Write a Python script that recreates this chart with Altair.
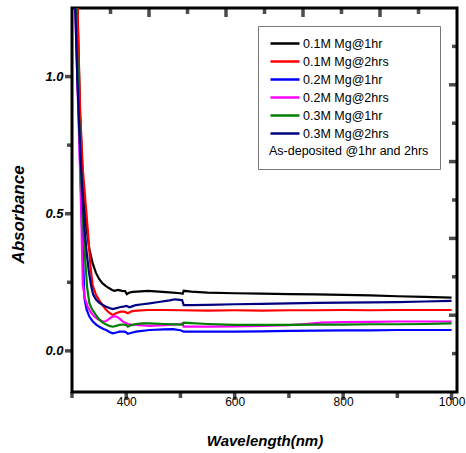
import altair as alt
import pandas as pd

series = ["0.1M Mg@1hr", "0.1M Mg@2hrs", "0.2M Mg@1hr", "0.2M Mg@2hrs", "0.3M Mg@1hr", "0.3M Mg@2hrs"]
colors = ["#000000", "#ff0000", "#0000ff", "#ff00ff", "#008000", "#000080"]
legend_note = "As-deposited @1hr and 2hrs"

wl_01_1h = [300, 305, 310, 315, 320, 326, 332, 338, 344, 350, 356, 362, 368, 374, 378, 385, 392, 398, 401, 405,
            412, 420, 440, 460, 480, 500, 504, 506, 520, 550, 600, 650, 700, 750, 800, 850, 900, 950, 1000]
ab_01_1h = [2.0, 1.6, 1.25, 0.86, 0.62, 0.46, 0.37, 0.32, 0.285, 0.262, 0.247, 0.237, 0.229, 0.222, 0.219, 0.222,
            0.219, 0.218, 0.207, 0.212, 0.215, 0.216, 0.219, 0.216, 0.213, 0.210, 0.208, 0.219, 0.216, 0.212,
            0.210, 0.209, 0.207, 0.206, 0.204, 0.202, 0.199, 0.197, 0.194]

wl_01_2h = [300, 305, 310, 315, 320, 325, 330, 334, 338, 344, 350, 356, 362, 368, 375, 382, 390, 396, 400, 403,
            410, 420, 440, 470, 500, 550, 600, 650, 700, 750, 800, 850, 900, 950, 1000]
ab_01_2h = [2.0, 1.6, 1.27, 0.87, 0.66, 0.54, 0.42, 0.31, 0.24, 0.205, 0.185, 0.168, 0.152, 0.140, 0.131, 0.138,
            0.143, 0.143, 0.140, 0.137, 0.144, 0.147, 0.149, 0.149, 0.148, 0.147, 0.148, 0.147, 0.148, 0.148,
            0.149, 0.148, 0.149, 0.149, 0.149]

wl_02_1h = [300, 304, 308, 312, 316, 320, 323, 327, 332, 338, 345, 352, 358, 363, 369, 375, 382, 388, 397, 400,
            403, 410, 418, 443, 470, 486, 500, 506, 550, 600, 650, 700, 750, 800, 850, 900, 950, 1000]
ab_02_1h = [1.8, 1.45, 1.15, 0.88, 0.62, 0.36, 0.19, 0.15, 0.125, 0.108, 0.095, 0.086, 0.080, 0.076, 0.069, 0.064,
            0.067, 0.070, 0.070, 0.067, 0.062, 0.066, 0.070, 0.076, 0.078, 0.079, 0.075, 0.070, 0.070, 0.070,
            0.071, 0.073, 0.074, 0.075, 0.075, 0.076, 0.076, 0.076]

wl_02_2h = [300, 303, 306, 310, 314, 317, 320, 324, 329, 335, 341, 348, 357, 362, 366, 371, 375, 380, 385, 390,
            394, 398, 403, 410, 418, 443, 470, 500, 504, 506, 550, 600, 650, 700, 730, 760, 800, 850, 900, 950, 1000]
ab_02_2h = [1.65, 1.45, 1.25, 0.98, 0.72, 0.50, 0.24, 0.19, 0.161, 0.14, 0.125, 0.115, 0.107, 0.108, 0.113, 0.12,
            0.125, 0.126, 0.122, 0.114, 0.107, 0.102, 0.098, 0.096, 0.095, 0.091, 0.094, 0.098, 0.100, 0.088,
            0.088, 0.089, 0.091, 0.094, 0.098, 0.103, 0.105, 0.106, 0.107, 0.107, 0.107]

wl_03_1h = [300, 304, 308, 312, 316, 320, 324, 328, 332, 336, 340, 345, 351, 357, 363, 369, 375, 382, 388, 394,
            400, 403, 408, 418, 430, 443, 470, 500, 504, 506, 520, 550, 600, 650, 700, 750, 800, 850, 900, 950, 1000]
ab_03_1h = [1.9, 1.5, 1.2, 0.92, 0.68, 0.49, 0.34, 0.23, 0.175, 0.155, 0.143, 0.128, 0.113, 0.103, 0.096, 0.091,
            0.088, 0.091, 0.095, 0.096, 0.094, 0.088, 0.093, 0.098, 0.100, 0.100, 0.098, 0.096, 0.095, 0.103,
            0.101, 0.098, 0.095, 0.095, 0.095, 0.096, 0.096, 0.097, 0.097, 0.098, 0.100]

wl_03_2h = [300, 303, 306, 310, 315, 319, 323, 327, 331, 335, 339, 345, 351, 357, 363, 369, 375, 382, 388, 394,
            400, 403, 406, 412, 418, 430, 443, 460, 480, 490, 503, 506, 520, 550, 600, 650, 700, 750, 800, 850,
            900, 950, 1000]
ab_03_2h = [1.75, 1.45, 1.25, 0.98, 0.74, 0.58, 0.45, 0.36, 0.29, 0.24, 0.205, 0.185, 0.174, 0.167, 0.161, 0.156,
            0.152, 0.156, 0.159, 0.161, 0.164, 0.162, 0.159, 0.163, 0.167, 0.170, 0.173, 0.178, 0.184, 0.188,
            0.185, 0.167, 0.167, 0.168, 0.170, 0.171, 0.173, 0.175, 0.176, 0.177, 0.178, 0.180, 0.182]

x_major = [400, 600, 800, 1000]
x_minor = [300, 500, 700, 900]
y_major = [0.0, 0.5, 1.0]
y_minor = [0.25, 0.75]
frame_major = [2, 4, 6, 8]
frame_minor = [1, 3, 5, 7, 9]

wls = [wl_01_1h, wl_01_2h, wl_02_1h, wl_02_2h, wl_03_1h, wl_03_2h]
abs_ = [ab_01_1h, ab_01_2h, ab_02_1h, ab_02_2h, ab_03_1h, ab_03_2h]
rows = []
for name, w, a in zip(series, wls, abs_):
    for wi, ai in zip(w, a):
        rows.append({"series": name, "w": wi, "a": ai})
df = pd.DataFrame(rows)

FONT = "Liberation Sans"
XDOM = [300, 1010]
YDOM = [-0.15, 1.25]
W, H = 385, 384
TICKCOL = "#000000"

lines = alt.Chart(df).mark_line(strokeWidth=2.2, clip=True).encode(
    x=alt.X("w:Q", scale=alt.Scale(domain=XDOM, nice=False, zero=False),
            axis=alt.Axis(orient="bottom", values=x_major, format="d", ticks=False,
                          domain=False, grid=False, labelFont=FONT, labelFontSize=12, labelColor="black",
                          labelPadding=4, title="Wavelength(nm)", titleFont=FONT, titleFontSize=15,
                          titleFontStyle="italic", titleFontWeight="bold", titleColor="black",
                          titleBaseline="middle", titleY=48)),
    y=alt.Y("a:Q", scale=alt.Scale(domain=YDOM, nice=False, zero=False),
            axis=alt.Axis(orient="left", values=y_major, format=".1f", ticks=False,
                          domain=False, grid=False, labelFont=FONT,
                          labelFontSize=13, labelFontWeight="bold", labelFontStyle="italic", labelColor="black",
                          labelPadding=9, title="Absorbance", titleFont=FONT, titleFontSize=17,
                          titleFontStyle="italic", titleFontWeight="bold", titleColor="black",
                          titleBaseline="middle", titleAlign="center", titleAngle=270, titleX=-54, titleY=206)),
    color=alt.Color("series:N", sort=series, scale=alt.Scale(domain=series, range=colors),
                    legend=alt.Legend(orient="none", legendX=186, legendY=18, title=legend_note,
                                      titleOrient="bottom", titleFont=FONT, titleFontSize=12.5,
                                      titleFontWeight="normal", titleColor="black", titlePadding=5,
                                      labelFont=FONT, labelFontSize=12.5, labelColor="black", labelOffset=2,
                                      symbolType="stroke", symbolSize=841, symbolStrokeWidth=2.5,
                                      clipHeight=13, rowPadding=5, padding=11, fillColor="white",
                                      strokeColor="#777777")),
    detail="series:N",
)


def vticks(values, domain, ypix, length):
    d = pd.DataFrame({"v": values})
    return alt.Chart(d).mark_tick(orient="vertical", color=TICKCOL, thickness=3.5, size=length).encode(
        x=alt.X("v:Q", scale=alt.Scale(domain=domain, nice=False, zero=False), axis=None),
        y=alt.value(ypix),
    )


def hticks(values, domain, xpix, length):
    d = pd.DataFrame({"v": values})
    return alt.Chart(d).mark_tick(orient="horizontal", color=TICKCOL, thickness=3.5, size=length).encode(
        y=alt.Y("v:Q", scale=alt.Scale(domain=domain, nice=False, zero=False), axis=None),
        x=alt.value(xpix),
    )


tick_layers = [
    vticks(x_major, XDOM, H + 4, 8),
    vticks(x_minor, XDOM, H + 3, 6),
    hticks(y_major, YDOM, -3.5, 7),
    hticks(y_minor, YDOM, -2.5, 5),
    vticks(frame_major, [0, 10], 4.5, 9),
    vticks(frame_minor, [0, 10], 3, 6),
    hticks(frame_major, [0, 10], W - 4, 8),
    hticks(frame_minor, [0, 10], W - 2.5, 5),
]

chart = alt.layer(lines, *tick_layers).resolve_scale(
    x="independent", y="independent"
).properties(
    width=W, height=H,
    autosize=alt.AutoSizeParams(type="none"),
    padding={"left": 72, "top": 8, "right": 9, "bottom": 61},
    background="white",
).configure_view(stroke="black", strokeWidth=3)

chart.save("out.html", embed_options={"renderer": "svg", "actions": False})
